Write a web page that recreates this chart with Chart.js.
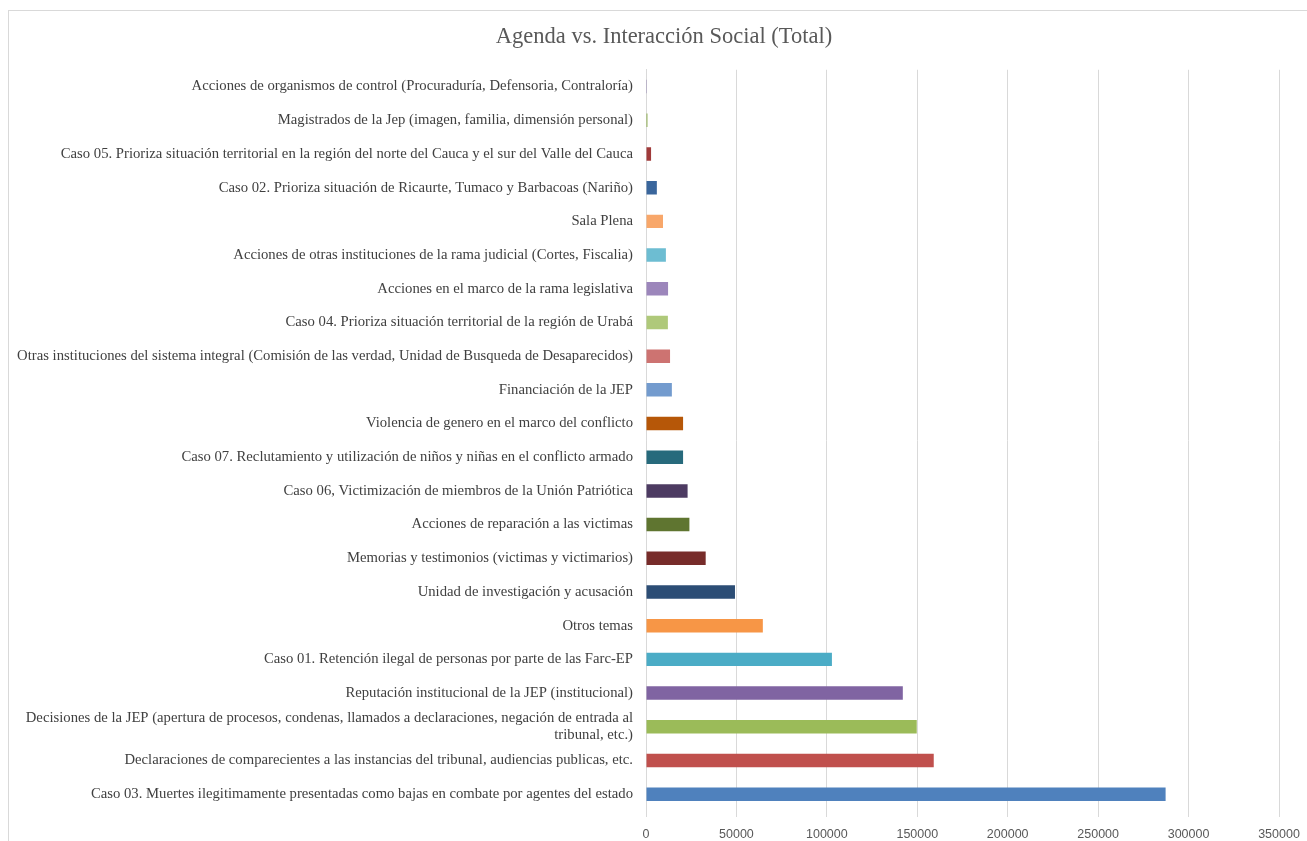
<!DOCTYPE html>
<html>
<head>
<meta charset="utf-8">
<script src="https://cdn.jsdelivr.net/npm/chart.js@4.4.1/dist/chart.umd.min.js"></script>
<style>
  html, body { margin: 0; padding: 0; background: #fff; overflow: hidden; }
  #wrap { position: absolute; left: 8px; top: 10px; width: 1320px; height: 850px;
          border-left: 1px solid #d9d9d9; border-top: 1px solid #d9d9d9; }
  canvas { position: absolute; left: 0; top: 0; }
</style>
</head>
<body>
<div id="wrap"><canvas id="c" width="1310" height="831"></canvas></div>
<script>
const categories = [
  "Acciones de organismos de control (Procuraduría, Defensoria, Contraloría)",
  "Magistrados de la Jep (imagen, familia, dimensión personal)",
  "Caso 05. Prioriza situación territorial en la región del norte del Cauca y el sur del Valle del Cauca",
  "Caso 02. Prioriza situación de Ricaurte, Tumaco y Barbacoas (Nariño)",
  "Sala Plena",
  "Acciones de otras instituciones de la rama judicial (Cortes, Fiscalia)",
  "Acciones en el marco de la rama legislativa",
  "Caso 04. Prioriza situación territorial de la región de Urabá",
  "Otras instituciones del sistema integral (Comisión de las verdad, Unidad de Busqueda de Desaparecidos)",
  "Financiación de la JEP",
  "Violencia de genero en el marco del conflicto",
  "Caso 07. Reclutamiento y utilización de niños y niñas en el conflicto armado",
  "Caso 06, Victimización de miembros de la Unión Patriótica",
  "Acciones de reparación a las victimas",
  "Memorias y testimonios (victimas y victimarios)",
  "Unidad de investigación y acusación",
  "Otros temas",
  "Caso 01. Retención ilegal de personas por parte de las Farc-EP",
  "Reputación institucional de la JEP (institucional)",
  ["Decisiones de la JEP (apertura de procesos, condenas, llamados a declaraciones, negación de entrada al", "tribunal, etc.)"],
  "Declaraciones de comparecientes a las instancias del tribunal, audiencias publicas, etc.",
  "Caso 03. Muertes ilegitimamente presentadas como bajas en combate por agentes del estado"
];
const totals = [500, 800, 2800, 6000, 9400, 11000, 12200, 12100, 13300, 14300, 20500, 20500,
                23000, 24000, 33000, 49200, 64600, 102800, 142000, 149700, 159100, 287300];
const barColors = ["#8f80b0", "#8aab4a", "#a03a3a", "#3a669c", "#f8a76a", "#6dbdd2", "#9c86bb",
                   "#afc97a", "#cd7371", "#739bce", "#b65708", "#276a7c", "#4d3b62", "#5f7530",
                   "#772c2a", "#2c4d75", "#f79646", "#4bacc6", "#8064a2", "#9bbb59", "#c0504d", "#4f81bd"];
const xTicks = [0, 50000, 100000, 150000, 200000, 250000, 300000, 350000];

const centerTitle = {
  id: 'centerTitle',
  afterLayout(chart) {
    const t = chart.titleBlock;
    if (t) { t.left += 20; t.right += 20; }
  }
};

new Chart(document.getElementById('c'), {
  type: 'bar',
  data: {
    labels: categories,
    datasets: [{ data: totals, backgroundColor: barColors, barPercentage: 0.4, categoryPercentage: 1.0 }]
  },
  plugins: [centerTitle],
  options: {
    indexAxis: 'y',
    responsive: false,
    animation: false,
    layout: { padding: { left: 0, right: 40, top: 0, bottom: 0 } },
    plugins: {
      legend: { display: false },
      tooltip: { enabled: false },
      title: {
        display: true,
        text: 'Agenda vs. Interacción Social (Total)',
        color: '#595959',
        font: { family: 'Liberation Serif', size: 22.5, weight: 'normal', lineHeight: 1.1 },
        padding: { top: 14, bottom: 20 }
      }
    },
    scales: {
      x: {
        min: 0, max: 350000,
        afterBuildTicks: s => { s.ticks = xTicks.map(v => ({ value: v })); },
        ticks: { color: '#595959', font: { family: 'Liberation Sans', size: 12.5 }, padding: 10, maxRotation: 0,
                 callback: v => String(v) },
        grid: { color: '#d9d9d9', tickLength: 6, drawTicks: true },
        border: { display: false },
        afterFit: s => { s.height = 31; }
      },
      y: {
        ticks: { color: '#404040', font: { family: 'Liberation Serif', size: 14.7, lineHeight: 1.15 }, padding: 13, autoSkip: false },
        grid: { display: false, drawTicks: false },
        border: { display: true, color: '#d9d9d9' },
        afterFit: s => { s.width = 637; }
      }
    }
  }
});
</script>
</body>
</html>
